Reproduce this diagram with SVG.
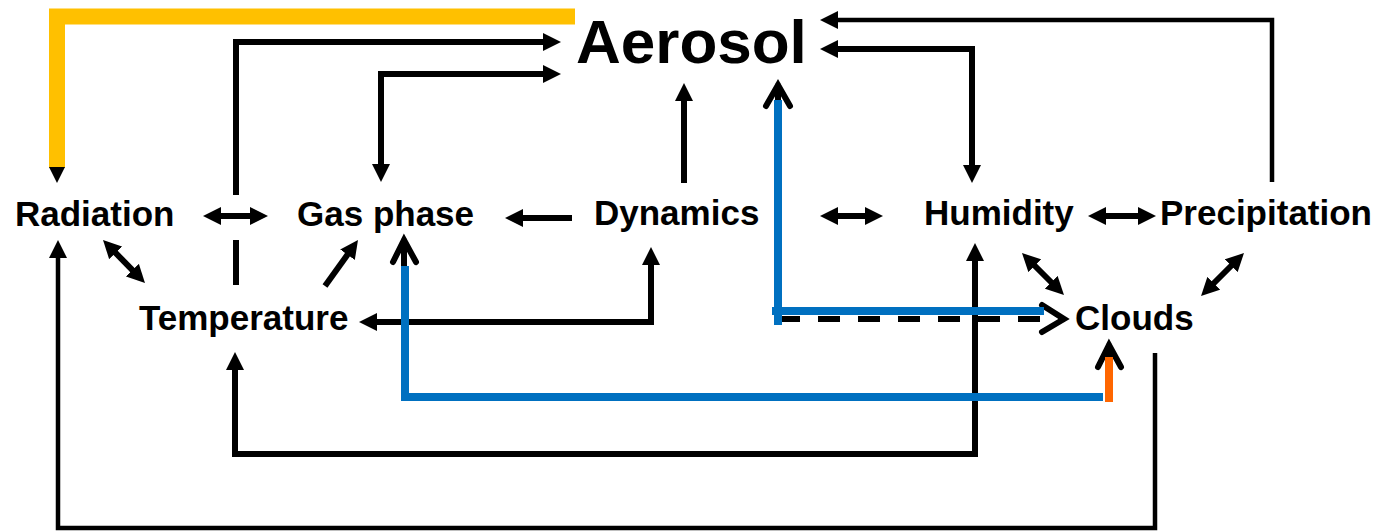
<svg xmlns="http://www.w3.org/2000/svg" width="1383" height="532" viewBox="0 0 1383 532">
  <style>
    .lbl { font-family: "Liberation Sans", Arial, sans-serif; font-weight: bold; font-size: 35px; fill: #000; }
    .big { font-size: 62px; }
    .ln { fill: none; stroke: #000; stroke-width: 6; }
    .thin { stroke-width: 4.5; }
    .chev { fill: none; stroke: #000; stroke-width: 6; stroke-linecap: round; stroke-linejoin: miter; }
    .blue { fill: none; stroke: #0070C0; stroke-width: 8; }
    .orange { fill: none; stroke: #FF6600; stroke-width: 8; }
    .gold { fill: none; stroke: #FFC000; stroke-width: 16; }
    .dash { fill: none; stroke: #000; stroke-width: 6; stroke-dasharray: 22 18; }
  </style>
  <defs>
    <!-- filled head; the path end sits 12px behind the tip -->
    <marker id="ah" viewBox="0 0 18 18" refX="6" refY="9" markerWidth="18" markerHeight="18" markerUnits="userSpaceOnUse" orient="auto-start-reverse">
      <path d="M0,0 L18,9 L0,18 z" fill="#000"/>
    </marker>
  </defs>

  <g id="connectors">
    <!-- radiation feedback from aerosol -->
    <path class="gold" d="M575,16.5 H57 V168"/>
    <polygon points="49,167 65,167 57,183" fill="#000"/>

    <!-- temperature -> aerosol -->
    <path class="ln" d="M236,195 V42 H549" marker-end="url(#ah)"/>
    <path class="ln" d="M236,240 V285"/>

    <!-- gas phase <-> aerosol -->
    <path class="ln" d="M381,170 V74 H549" marker-start="url(#ah)" marker-end="url(#ah)"/>

    <!-- radiation <-> gas phase -->
    <path class="ln" d="M215,216 H256" marker-start="url(#ah)" marker-end="url(#ah)"/>

    <!-- dynamics -> gas phase -->
    <path class="ln" d="M572,218 H517" marker-end="url(#ah)"/>

    <!-- dynamics -> aerosol -->
    <path class="ln" d="M684,183 V95" marker-end="url(#ah)"/>

    <!-- precipitation -> aerosol -->
    <path class="ln thin" d="M1272,182 V20 H832" marker-end="url(#ah)"/>

    <!-- aerosol <-> humidity -->
    <path class="ln" d="M832,49 H972 V171" marker-start="url(#ah)" marker-end="url(#ah)"/>

    <!-- dynamics <-> humidity -->
    <path class="ln" d="M832,216 H871" marker-start="url(#ah)" marker-end="url(#ah)"/>

    <!-- humidity <-> precipitation -->
    <path class="ln" d="M1100,216 H1144" marker-start="url(#ah)" marker-end="url(#ah)"/>

    <!-- radiation <-> temperature -->
    <path class="ln" d="M111.4,248.6 L136.6,274.4" marker-start="url(#ah)" marker-end="url(#ah)"/>

    <!-- temperature -> gas phase -->
    <path class="ln" d="M325,286 L351,249.8" marker-end="url(#ah)"/>

    <!-- dynamics <-> temperature -->
    <path class="ln" d="M651,259 V322 H371" marker-start="url(#ah)" marker-end="url(#ah)"/>

    <!-- humidity <-> temperature -->
    <path class="ln" d="M975,255 V454 H235 V364" marker-start="url(#ah)" marker-end="url(#ah)"/>

    <!-- clouds -> radiation -->
    <path class="ln thin" d="M1155,353 V528 H58 V252" marker-end="url(#ah)"/>

    <!-- humidity <-> clouds -->
    <path class="ln" d="M1030.5,261.5 L1055.5,286.5" marker-start="url(#ah)" marker-end="url(#ah)"/>

    <!-- precipitation <-> clouds -->
    <path class="ln" d="M1235.5,261.5 L1209.5,287.5" marker-start="url(#ah)" marker-end="url(#ah)"/>

    <!-- aerosol -> clouds (dashed) -->
    <path class="dash" d="M778,319 H1060"/>
    <path class="chev" d="M1042,305 L1064,319 L1042,332"/>

    <!-- clouds -> aerosol (blue) -->
    <path class="chev" d="M766,106 L778,85 L790,106 M778,85 V104"/>
    <path class="blue" d="M778,100 V325"/>
    <path class="blue" d="M772,311 H1044"/>

    <!-- clouds -> gas phase (blue) -->
    <path class="chev" d="M393,262 L404,240 L416,262 M404,240 V268"/>
    <path class="blue" d="M405,266 V397 H1103"/>

    <!-- into clouds (orange) -->
    <path class="chev" d="M1098,367 L1109,345 L1121,367 M1109,345 V360"/>
    <path class="orange" d="M1109,357 V402"/>
  </g>

  <g id="aerosol"><text class="lbl big" x="576" y="63">Aerosol</text></g>
  <g id="radiation"><text class="lbl" x="15" y="226">Radiation</text></g>
  <g id="gas-phase"><text class="lbl" x="297" y="226">Gas phase</text></g>
  <g id="dynamics"><text class="lbl" x="594" y="225">Dynamics</text></g>
  <g id="humidity"><text class="lbl" x="924" y="225">Humidity</text></g>
  <g id="precipitation"><text class="lbl" x="1160" y="225">Precipitation</text></g>
  <g id="temperature"><text class="lbl" x="139" y="330">Temperature</text></g>
  <g id="clouds"><text class="lbl" x="1075" y="330">Clouds</text></g>
</svg>
